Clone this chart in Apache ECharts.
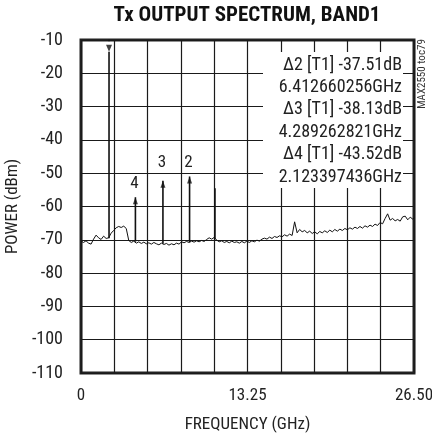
<!DOCTYPE html>
<html><head><meta charset="utf-8">
<script src="https://cdn.jsdelivr.net/npm/echarts@6/dist/echarts.min.js"></script>
<style>html,body{margin:0;padding:0;background:#fff}#c{width:432px;height:433px}</style>
</head><body><div id="c"></div>
<script>
const FONT = '"Liberation Sans Narrow", "Roboto Condensed", "Arial Narrow", "Nimbus Sans Narrow", "Liberation Sans", sans-serif';
const titleText = 'Tx OUTPUT SPECTRUM, BAND1';
const xAxisName = 'FREQUENCY (GHz)';
const yAxisName = 'POWER (dBm)';
const xTickValues = [0, 13.25, 26.5];
const xTickLabels = ['0', '13.25', '26.50'];

const noiseFreq = [0,0.2,0.4,0.6,0.8,1.0,1.2,1.4,1.6,1.8,2.0,2.2,2.4,2.6,2.8,3.0,3.2,3.4,3.6,3.8,
4.0,4.2,4.4,4.6,4.8,5.0,5.2,5.4,5.6,5.8,6.0,6.2,6.4,6.6,6.8,7.0,7.2,7.4,7.6,7.8,
8.0,8.2,8.4,8.6,8.8,9.0,9.2,9.4,9.6,9.8,10.0,10.2,10.4,10.6,10.8,11.0,11.2,11.4,11.6,11.8,
12.0,12.2,12.4,12.6,12.8,13.0,13.2,13.4,13.6,13.8,14.0,14.2,14.4,14.6,14.8,15.0,15.2,15.4,15.6,15.8,
16.0,16.2,16.4,16.6,16.8,17.0,17.2,17.4,17.6,17.8,18.0,18.2,18.4,18.6,18.8,19.0,19.2,19.4,19.6,19.8,
20.0,20.2,20.4,20.6,20.8,21.0,21.2,21.4,21.6,21.8,22.0,22.2,22.4,22.6,22.8,23.0,23.2,23.4,23.6,23.8,
24.0,24.2,24.4,24.6,24.8,25.0,25.2,25.4,25.6,25.8,26.0,26.2,26.4,26.5];
const noisePower = [-70.4,-70.8,-70.3,-71.0,-71.3,-69.8,-68.6,-69.4,-69.9,-68.9,-69.6,-69.4,-68.0,-67.2,-66.4,-66.0,-66.3,-65.9,-66.6,-70.2,
-70.8,-70.4,-71.0,-70.6,-71.1,-70.7,-71.2,-70.9,-71.3,-70.8,-71.2,-71.5,-71.0,-71.4,-71.1,-71.6,-71.2,-71.5,-71.0,-71.3,
-70.6,-70.9,-70.5,-70.8,-70.4,-70.7,-70.3,-70.6,-70.2,-70.5,-69.9,-69.4,-69.8,-69.3,-70.1,-70.6,-70.3,-70.8,-70.5,-70.9,
-70.4,-70.8,-70.6,-71.0,-70.5,-70.9,-70.4,-70.8,-70.3,-70.6,-70.1,-70.4,-69.8,-69.5,-69.8,-69.2,-69.6,-69.0,-69.3,-68.8,
-69.1,-68.5,-68.9,-68.3,-68.7,-64.6,-67.9,-66.9,-67.6,-67.2,-67.9,-67.4,-68.1,-67.6,-68.2,-67.5,-67.9,-67.3,-67.8,-67.1,
-67.6,-66.9,-67.4,-66.8,-67.2,-66.6,-67.0,-66.4,-66.8,-66.2,-66.6,-66.0,-66.5,-65.8,-66.2,-65.6,-66.0,-65.3,-65.7,-64.8,
-65.2,-63.6,-62.2,-64.1,-63.6,-64.3,-63.9,-64.4,-63.1,-62.9,-64.0,-63.2,-63.8,-63.4];

// discrete spectral lines (carrier, marked spurs, spur near 10.7 GHz)
const spikeFreq = [2.23, 4.33, 6.52, 8.64, 10.66];
const spikePeak = [-13.5, -57.2, -52.3, -51.0, -54.5];
const spikeBase = [-69.5, -70.6, -71.2, -70.7, -69.8];

// delta markers
const refMarkerFreq = 2.23;
const refMarkerPower = -13.5;
const markerNames = ['2', '3', '4'];
const markerFreq = [8.64, 6.52, 4.33];
const markerPower = [-51.0, -52.3, -57.2];

const annoLines = ['\u03942 [T1] -37.51dB', '6.412660256GHz', '\u03943 [T1] -38.13dB', '4.289262821GHz', '\u03944 [T1] -43.52dB', '2.123397436GHz'];
const sideNote = 'MAX2550 toc79';

// layout (pixels)
const markerLabelLift = [14, 18, 13];

const chart = echarts.init(document.getElementById('c'), null, {renderer: 'canvas'});

const series = [{
  type: 'line',
  data: noiseFreq.map((f, i) => [f, noisePower[i]]),
  showSymbol: false,
  lineStyle: {color: '#111', width: 1},
  z: 5
}];
spikeFreq.forEach((f, i) => {
  series.push({
    type: 'line',
    data: [[f, spikeBase[i]], [f, spikePeak[i]]],
    showSymbol: false,
    lineStyle: {color: '#111', width: 1.6},
    z: 5
  });
});
series.push({
  type: 'scatter',
  data: markerFreq.map((f, i) => [f, markerPower[i]]),
  symbol: 'path://M0,0 L4,8 L-4,8 Z',
  symbolSize: [5, 7],
  symbolOffset: [0, 3.5],
  itemStyle: {color: '#111'},
  z: 6
});
series.push({
  type: 'scatter',
  data: [[refMarkerFreq, refMarkerPower]],
  symbol: 'path://M-1,-6 L1,-6 L1,-4 L-1,-4 Z M-4,0 L4,0 L0,8 Z',
  symbolSize: [6, 12],
  symbolOffset: [0, -6],
  itemStyle: {color: '#111'},
  z: 6
});

const labelStyle = {fontFamily: FONT, color: '#222'};

chart.setOption({
  animation: false,
  backgroundColor: '#fff',
  grid: {left: 81, right: 18, top: 40, bottom: 60, containLabel: false, outerBoundsMode: 'none',
    show: true, borderColor: '#222', borderWidth: 3, backgroundColor: 'transparent'},
  xAxis: {
    type: 'value', min: 0, max: 26.5, interval: 2.65,
    name: xAxisName, nameLocation: 'middle', nameGap: 43,
    nameTextStyle: Object.assign({fontSize: 17}, labelStyle),
    axisLine: {show: false}, axisTick: {show: false},
    axisLabel: Object.assign({fontSize: 17, margin: 14, showMaxLabel: true, showMinLabel: true,
      formatter: v => { const k = xTickValues.findIndex(t => Math.abs(t - v) < 1e-6); return k >= 0 ? xTickLabels[k] : ''; }}, labelStyle),
    splitLine: {show: true, lineStyle: {color: '#1a1a1a', width: 1.2}}
  },
  yAxis: {
    type: 'value', min: -110, max: -10, interval: 10,
    name: yAxisName, nameLocation: 'middle', nameGap: 52, nameRotate: 90,
    nameTextStyle: Object.assign({fontSize: 17}, labelStyle),
    axisLine: {show: false}, axisTick: {show: false},
    axisLabel: Object.assign({fontSize: 18, margin: 18}, labelStyle),
    splitLine: {show: true, lineStyle: {color: '#1a1a1a', width: 1.2}}
  },
  series: series
});

const graphics = [];
graphics.push({type: 'text', x: 247, y: 16, z: 100,
  style: {text: titleText, font: 'bold 21px ' + FONT, fill: '#111', textAlign: 'center', textVerticalAlign: 'middle'}});
graphics.push({type: 'rect', shape: {x: 263, y: 52, width: 140, height: 136}, style: {fill: '#fff'}, z: 100});
annoLines.forEach((t, i) => {
  graphics.push({type: 'text', x: 402, y: 65 + i * 22.4, z: 101,
    style: {text: t, font: '18px ' + FONT, fill: '#222', textAlign: 'right', textVerticalAlign: 'middle'}});
});
graphics.push({type: 'text', x: 422, y: 74, rotation: Math.PI / 2, z: 101,
  style: {text: sideNote, font: '11px ' + FONT, fill: '#333', textAlign: 'center', textVerticalAlign: 'middle'}});
markerNames.forEach((n, i) => {
  const p = chart.convertToPixel({gridIndex: 0}, [markerFreq[i], markerPower[i]]);
  graphics.push({type: 'text', x: p[0] - 1, y: p[1] - markerLabelLift[i], z: 101,
    style: {text: n, font: '17px ' + FONT, fill: '#222', textAlign: 'center', textVerticalAlign: 'middle'}});
});
chart.setOption({graphic: graphics});
</script>
</body></html>
